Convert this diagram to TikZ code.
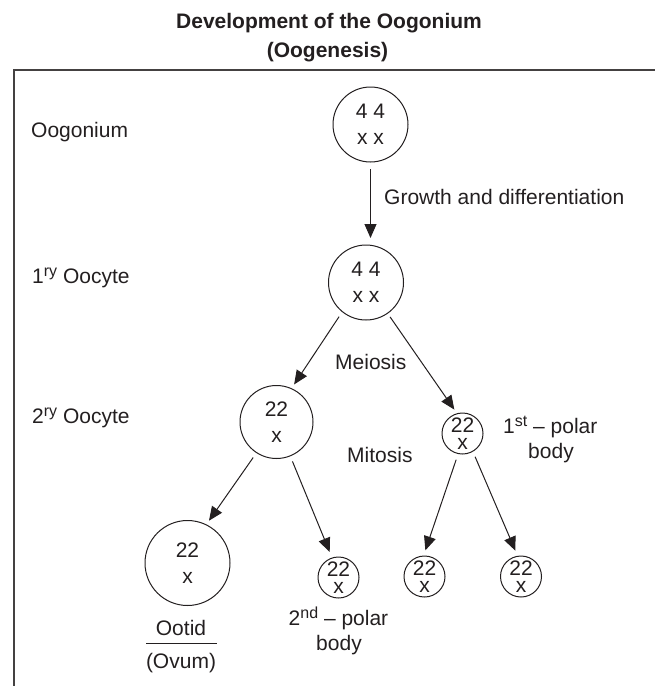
\documentclass[tikz,border=0pt]{standalone}
\usepackage{fontspec}
\setmainfont{Liberation Sans}
\usetikzlibrary{arrows.meta}
\definecolor{ink}{HTML}{231F20}
\newcommand\mysup[1]{\raisebox{6.5pt}{\fontsize{16}{16}\selectfont #1}}
\begin{document}
\begin{tikzpicture}[x=1pt,y=-1pt,
  every node/.style={text=ink},
  lbl/.style={font=\fontsize{21}{25}\selectfont, inner sep=0pt},
  ttl/.style={font=\fontsize{21}{25}\selectfont\bfseries, inner sep=0pt},
  cell/.style={draw=ink, circle, line width=1pt, inner sep=0pt, outer sep=0pt, align=center},
  bigcell/.style={cell, font=\fontsize{21}{26}\selectfont},
  smallcell/.style={cell, minimum size=41pt, font=\fontsize{21}{17.5}\selectfont},
  arr/.style={draw=ink, line width=1pt, -{Triangle[length=14pt,width=12pt]}},
  frame/.style={draw=ink!85, line width=1.5pt}
]
\path[use as bounding box] (0,0) rectangle (655,686);

% title
\node[ttl, anchor=base] (t1) at (329,28.5) {Development of the Oogonium};
\node[ttl, anchor=base] (t2) at (327.5,57) {(Oogenesis)};

% frame
\coordinate (fr1) at (655,70);
\coordinate (fr2) at (14,70);
\coordinate (fr3) at (14,686);
\draw[frame] (fr1) -- (fr2) -- (fr3);

% row labels
\node[lbl, anchor=base west] (lOog) at (31,137) {Oogonium};
\node[lbl, anchor=base west] (lOc1) at (32,283) {1\mysup{ry} Oocyte};
\node[lbl, anchor=base west] (lOc2) at (32,423) {2\mysup{ry} Oocyte};

% cells
\node[bigcell, minimum size=75pt] (o1) at (370.5,124.5) {4 4\\x x};
\node[bigcell, minimum size=75pt] (oc1) at (366,282.5) {4 4\\x x};
\node[bigcell, minimum size=73pt] (oc2) at (276.5,422) {22\\x};
\node[smallcell] (p1) at (462.5,433.5) {22\\x};
\node[bigcell, minimum size=85pt] (ot) at (187.5,563) {22\\x};
\node[smallcell] (p2) at (338.5,577.5) {22\\x};
\node[smallcell] (p3) at (424.5,576.5) {22\\x};
\node[smallcell] (p4) at (521,576.5) {22\\x};

% connectors
\draw[arr, shorten <=7pt, shorten >=7pt] (o1.south) -- (o1.south |- oc1.north);
\draw[arr, shorten <=6pt, shorten >=5pt] (oc1.231) -- (oc2.66);
\draw[arr, shorten <=4.5pt, shorten >=5pt] (oc1.305) -- (p1.105);
\draw[arr, shorten <=6pt, shorten >=5pt] (oc2.237) -- (ot.64);
\draw[arr, shorten <=6pt, shorten >=6.5pt] (oc2.292) -- (p2.108);
\draw[arr, shorten <=6.5pt, shorten >=6pt] (p1.258) -- (p3.93);
\draw[arr, shorten <=6pt, shorten >=6pt] (p1.300) -- (p4.99);

% process labels
\node[lbl, anchor=base west] (lGr) at (384,204) {Growth and differentiation};
\node[lbl, anchor=base west] (lMe) at (335,369) {Meiosis};
\node[lbl, anchor=base west] (lMi) at (347,462) {Mitosis};
\node[lbl, anchor=base west] (lP1a) at (503,433) {1\mysup{st} -- polar};
\node[lbl, anchor=base] (lP1b) at (551,458) {body};
\node[lbl, anchor=base] (lP2a) at (338.5,625) {2\mysup{nd} -- polar};
\node[lbl, anchor=base] (lP2b) at (339,650) {body};

% ootid / ovum
\node[lbl, anchor=base] (lOt) at (181,635.5) {Ootid};
\node[lbl, anchor=base] (lOv) at (181,668) {(Ovum)};
\coordinate (bar1) at (146,643);
\coordinate (bar2) at (217,643);
\draw[draw=ink, line width=1pt] (bar1) -- (bar2);
\end{tikzpicture}
\end{document}
